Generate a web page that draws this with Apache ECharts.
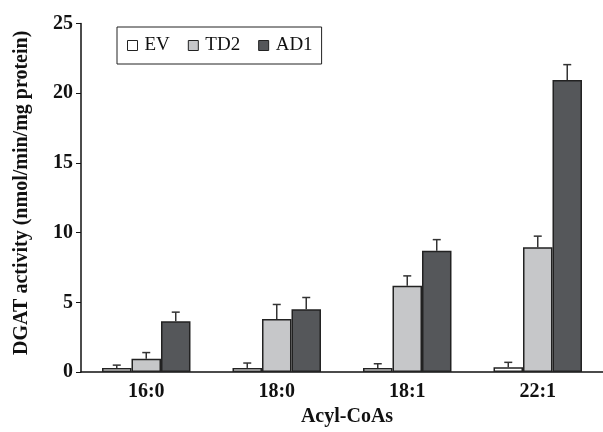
<!DOCTYPE html>
<html>
<head>
<meta charset="utf-8">
<script src="https://cdn.jsdelivr.net/npm/echarts@6/dist/echarts.min.js"></script>
<style>
  html, body { margin: 0; padding: 0; background: #fff; }
  #chart { width: 603px; height: 432px; }
</style>
</head>
<body>
<div id="chart"></div>
<script>
// data
const categories = ['16:0', '18:0', '18:1', '22:1'];
const evValues = [0.3, 0.3, 0.3, 0.35];
const evErrors = [0.2, 0.35, 0.3, 0.35];
const td2Values = [0.95, 3.8, 6.2, 8.95];
const td2Errors = [0.45, 1.05, 0.7, 0.8];
const ad1Values = [3.65, 4.5, 8.7, 20.95];
const ad1Errors = [0.65, 0.85, 0.8, 1.1];
const yTicks = [0, 5, 10, 15, 20, 25];

const font = 'Liberation Serif';
const barPct = 0.226;

const chart = echarts.init(document.getElementById('chart'));

function errorSeries(values, errors, slot) {
    return {
        type: 'custom',
        silent: true,
        z: 1,
        data: values.map(function(v, i) { return [i, v, v + errors[i]]; }),
        renderItem: function(params, api) {
            const base = api.coord([api.value(0), api.value(1)]);
            const top = api.coord([api.value(0), api.value(2)]);
            const band = api.size([1, 0])[0];
            const x = base[0] + band * barPct * slot;
            return {
                type: 'group',
                children: [
                    { type: 'line', shape: { x1: x, y1: base[1], x2: x, y2: top[1] },
                      style: { stroke: '#333', lineWidth: 1.5 } },
                    { type: 'line', shape: { x1: x - 4, y1: top[1], x2: x + 4, y2: top[1] },
                      style: { stroke: '#333', lineWidth: 1.5 } }
                ]
            };
        }
    };
}

const barStyle = function(color) {
    return { color: color, borderColor: '#222', borderWidth: 1.5 };
};

chart.setOption({
    animation: false,
    textStyle: { fontFamily: font },
    grid: { left: 81, right: 0, top: 23.5, bottom: 58 },
    legend: {
        data: ['EV', 'TD2', 'AD1'],
        left: 117,
        top: 27,
        orient: 'horizontal',
        icon: 'rect',
        itemWidth: 10,
        itemHeight: 10,
        itemGap: 18,
        padding: [9, 9, 9, 10],
        borderColor: '#222',
        borderWidth: 1,
        itemStyle: { borderColor: '#222', borderWidth: 1 },
        textStyle: { fontFamily: font, fontSize: 19, color: '#111', padding: [0, 0, 0, 2] }
    },
    xAxis: {
        type: 'category',
        data: categories,
        name: 'Acyl-CoAs',
        nameLocation: 'middle',
        nameGap: 27,
        nameTextStyle: { fontFamily: font, fontSize: 20, fontWeight: 'bold', color: '#111',
                         padding: [0, 0, 0, 10] },
        axisLine: { lineStyle: { color: '#111', width: 1.5 } },
        axisTick: { length: 5, lineStyle: { color: '#bbb' } },
        axisLabel: { fontFamily: font, fontSize: 20, fontWeight: 'bold', color: '#111', margin: 10 }
    },
    yAxis: {
        type: 'value',
        min: yTicks[0],
        max: yTicks[yTicks.length - 1],
        interval: 5,
        name: 'DGAT activity (nmol/min/mg protein)',
        nameLocation: 'middle',
        nameGap: 49,
        nameTextStyle: { fontFamily: font, fontSize: 20, fontWeight: 'bold', color: '#111',
                         padding: [0, 0, 0, 10] },
        axisLine: { show: true, lineStyle: { color: '#111', width: 1.5 } },
        axisTick: { show: true, length: 5, lineStyle: { color: '#111' } },
        axisLabel: { fontFamily: font, fontSize: 20, fontWeight: 'bold', color: '#111', margin: 8 },
        splitLine: { show: false }
    },
    series: [
        { name: 'EV', type: 'bar', data: evValues, barWidth: (barPct * 100) + '%', barGap: '0%',
          itemStyle: barStyle('#ffffff'), z: 2 },
        { name: 'TD2', type: 'bar', data: td2Values, barWidth: (barPct * 100) + '%', barGap: '0%',
          itemStyle: barStyle('#c6c7c9'), z: 2 },
        { name: 'AD1', type: 'bar', data: ad1Values, barWidth: (barPct * 100) + '%', barGap: '0%',
          itemStyle: barStyle('#55575a'), z: 2 },
        errorSeries(evValues, evErrors, -1),
        errorSeries(td2Values, td2Errors, 0),
        errorSeries(ad1Values, ad1Errors, 1)
    ]
});

window.addEventListener('resize', function() {
    chart.resize();
});
</script>
</body>
</html>
